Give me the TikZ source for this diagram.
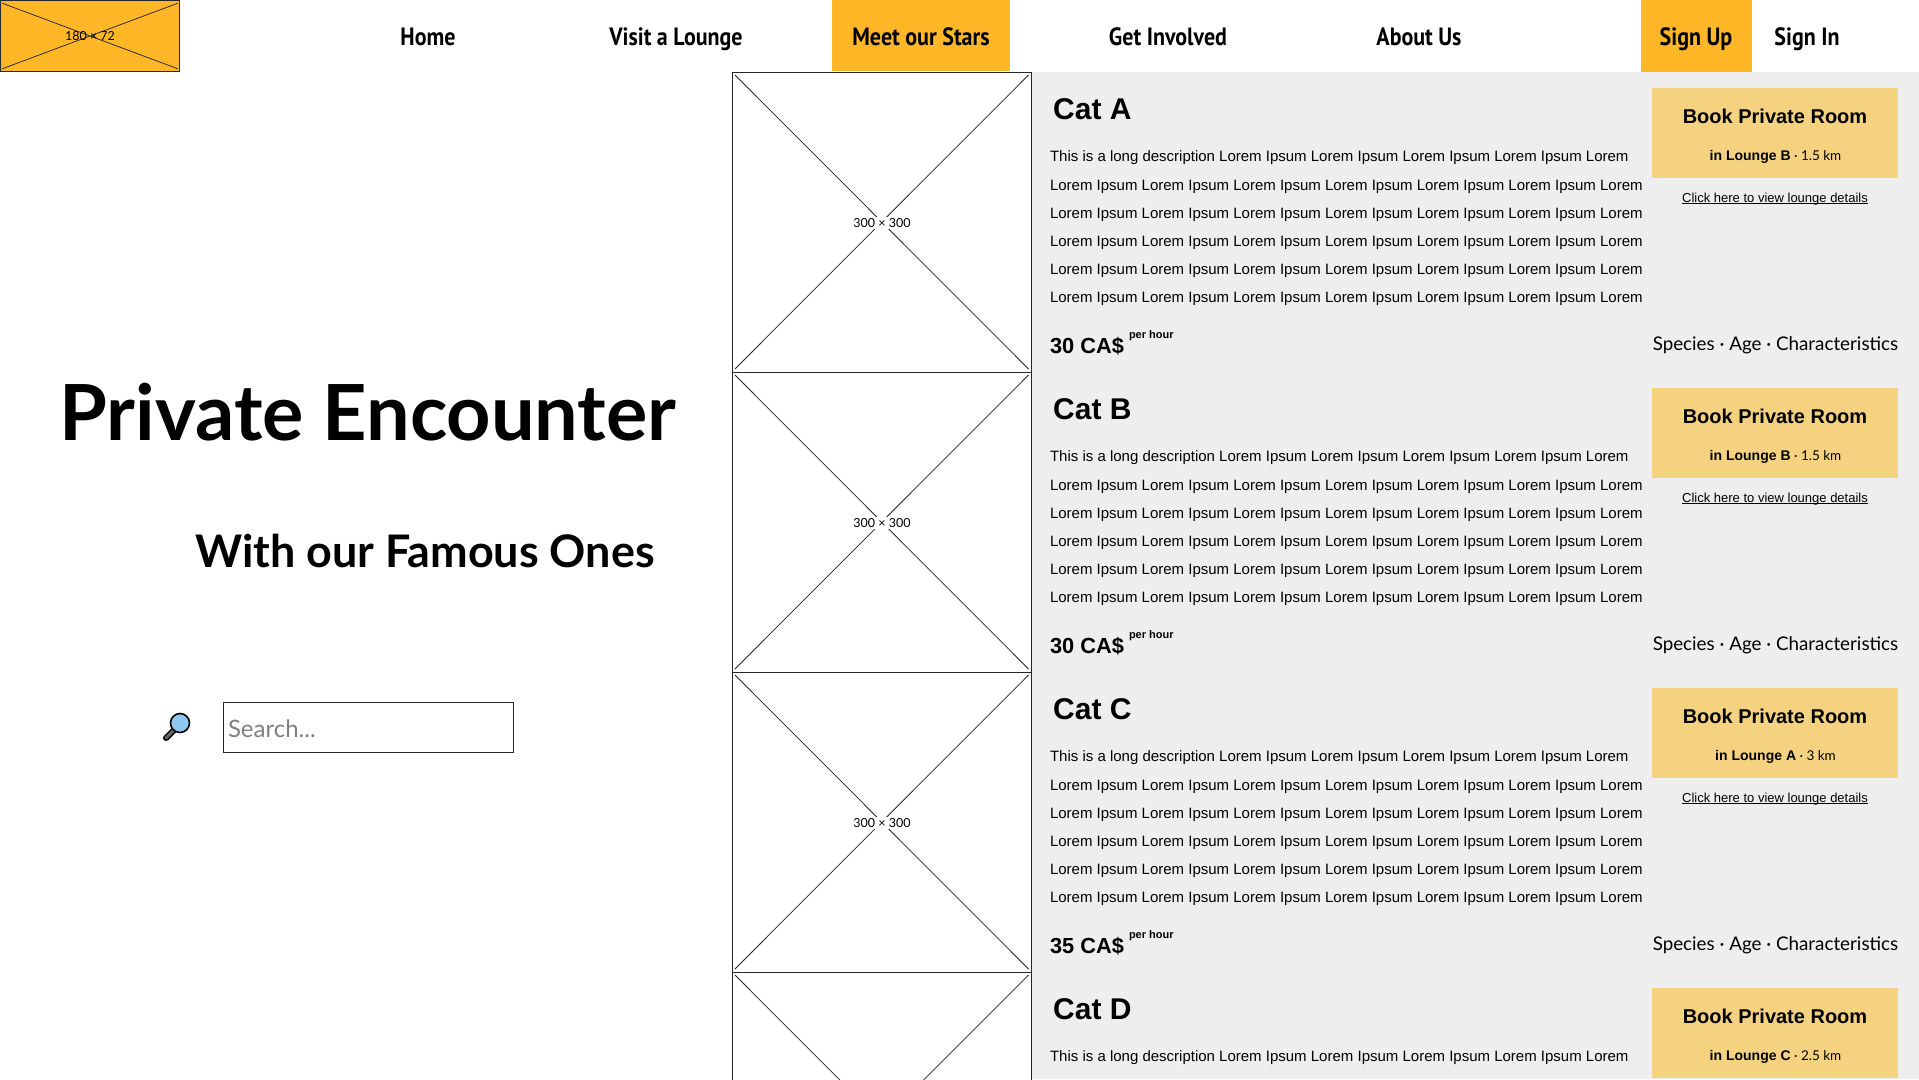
\documentclass[tikz,border=0pt]{standalone}
\usepackage{fontspec}
\setmainfont{Liberation Sans}
\newfontfamily\latofont{Lato}
\newfontfamily\navfont[FakeStretch=0.88]{PT Sans}
\definecolor{amber}{HTML}{FFB728}
\definecolor{paleamber}{HTML}{F5D27F}
\definecolor{panel}{HTML}{EEEEEE}
\definecolor{sky}{HTML}{8EC8F0}
\newcommand{\fs}[1]{\fontsize{#1}{#1}\selectfont}
\tikzset{
  x=1pt,y=-1pt,
  txt/.style={inner sep=0pt,outer sep=0pt,text=black},
  nav/.style={txt,anchor=base,font=\navfont\bfseries\fs{25}},
  bodyline/.style={txt,anchor=base west,font=\fs{15}},
  ph/.style={draw=black!85,line width=0.75pt},
  imgbox/.style={ph,fill=white,minimum width=299.5pt,minimum height=300pt,inner sep=0pt,outer sep=0pt},
  phlabel/.style={txt,fill=white,inner sep=1.5pt,font=\latofont\fs{12.5}},
  bookbox/.style={fill=paleamber,draw=none,minimum width=246pt,minimum height=90pt,inner sep=0pt},
}
\newcommand{\imgdiag}[1]{%
  \draw[ph] ([shift={(3,3)}]#1.north west) -- ([shift={(-3,-3)}]#1.south east)
            ([shift={(-3,3)}]#1.north east) -- ([shift={(3,-3)}]#1.south west);}
\newcommand{\rowtop}[5]{%
  \begin{scope}[shift={(0,#1)}]
    \node[imgbox] (img#1) at (881.75,222) {};
    \imgdiag{img#1}
    \node[txt,anchor=base west,font=\bfseries\fs{30}] (name#1) at (1053.2,119) {#2};
    \node[bodyline] (la#1) at (1050,161.3) {This is a long description Lorem Ipsum Lorem Ipsum Lorem Ipsum Lorem Ipsum Lorem};
    \node[bookbox] (book#1) at (1775,133) {};
    \node[txt,anchor=base,font=\bfseries\fs{20}] (booktxt#1) at (1775,123) {Book Private Room};
    \node[txt,anchor=base] (lounge#1) at (1775.5,160.3) {{\bfseries\fs{14}in Lounge #4}{\latofont\fs{13.5} · #5}};
  \end{scope}}
\newcommand{\rowrest}[2]{%
  \begin{scope}[shift={(0,#1)}]
    \node[phlabel] (imglab#1) at (882,223) {300 × 300};
    \foreach \yy/\nn in {190.3/b,218.5/c,246.6/d,274.6/e,302.6/f}{
      \node[bodyline] (l\nn#1) at (1050,\yy) {Lorem Ipsum Lorem Ipsum Lorem Ipsum Lorem Ipsum Lorem Ipsum Lorem Ipsum Lorem};
    }
    \node[txt,anchor=base west,font=\bfseries\fs{21.8}] (price#1) at (1050,353) {#2};
    \node[txt,anchor=base west,font=\bfseries\fs{11}] (per#1) at (1129,338) {per hour};
    \node[txt,anchor=base,font=\latofont\fs{18.8}] (spec#1) at (1775.5,350) {Species · Age · Characteristics};
    \node[txt,anchor=base,font=\fs{13}] (click#1) at (1775,202) {\underline{\smash{Click here to view lounge details}}};
  \end{scope}}
\begin{document}
\begin{tikzpicture}
\useasboundingbox (0,0) rectangle (1919,1079);
\fill[white] (0,0) rectangle (1919,1079);
\fill[panel] (1032,72) rectangle (1919,1079);
% header
\node[ph,fill=amber,minimum width=179.5pt,minimum height=71.5pt,inner sep=0pt,outer sep=0pt] (logo) at (90,36) {};
\draw[ph] ([shift={(2,3)}]logo.north west) -- ([shift={(-2,-3)}]logo.south east)
          ([shift={(-2,3)}]logo.north east) -- ([shift={(2,-3)}]logo.south west);
\node[txt,font=\latofont\fs{12.5}] (logotxt) at (90,36.5) {180 × 72};
\node[fill=amber,minimum width=178pt,minimum height=71pt,inner sep=0pt] (meetbg) at (921,35.5) {};
\node[fill=amber,minimum width=111pt,minimum height=72pt,inner sep=0pt] (signbg) at (1696.5,36) {};
\node[nav] (home) at (428,45) {Home};
\node[nav] (visit) at (676,45) {Visit a Lounge};
\node[nav] (meet) at (921,45) {Meet our Stars};
\node[nav] (inv) at (1168,45) {Get Involved};
\node[nav] (about) at (1419,45) {About Us};
\node[nav] (signup) at (1696,45) {Sign Up};
\node[nav] (signin) at (1807,45) {Sign In};
% left
\node[txt,anchor=base,font=\latofont\bfseries\fs{77.4}] (title) at (368,440) {Private Encounter};
\node[txt,anchor=base,font=\latofont\bfseries\fs{44.9}] (sub) at (425,567.5) {With our Famous Ones};
\node[draw=black!85,line width=0.8pt,fill=white,minimum width=290pt,minimum height=50pt,inner sep=0pt] (search) at (368,727) {};
\node[txt,anchor=base west,text=gray,font=\latofont\fs{24}] (placeholder) at (228,737) {Search...};
% magnifier
\draw[black,line width=6pt,line cap=round] (166,738) -- (175,729);
\draw[black!60,line width=3pt,line cap=round] (166,738) -- (175,729);
\draw[black,line width=1.6pt,fill=sky] (180,723) circle (9.5);
% rows
\rowtop{0}{Cat A}{30 CA\$}{B}{1.5 km}
\rowrest{0}{30 CA\$}
\rowtop{300}{Cat B}{30 CA\$}{B}{1.5 km}
\rowrest{300}{30 CA\$}
\rowtop{600}{Cat C}{35 CA\$}{A}{3 km}
\rowrest{600}{35 CA\$}
\begin{scope}
  \clip (0,0) rectangle (1919,1079);
  \rowtop{900}{Cat D}{}{C}{2.5 km}
\end{scope}
\end{tikzpicture}
\end{document}
